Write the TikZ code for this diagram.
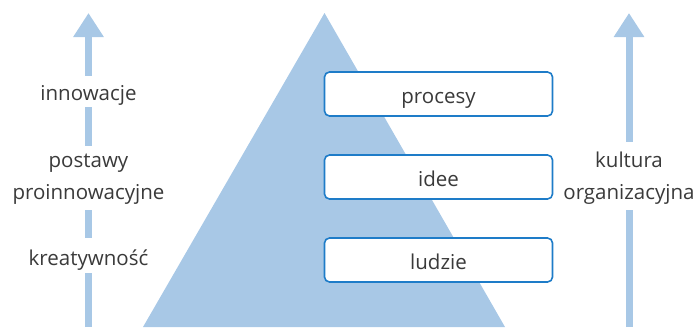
\documentclass[tikz,border=0pt]{standalone}
\usepackage{fontspec}
\setmainfont{Open Sans}
\usetikzlibrary{arrows.meta}

\definecolor{paleblue}{HTML}{A8C8E6}
\definecolor{frameblue}{HTML}{1E7CC8}
\definecolor{inkgray}{HTML}{3A3A3A}

\tikzset{
  shaft/.style={paleblue, line width=7pt},
  tipped/.style={shaft, -{Triangle[width=29pt,length=24pt]}},
  label/.style={text=inkgray, font=\fontsize{20.5}{32}\selectfont, align=center,
    inner xsep=4pt, inner ysep=0pt},
  level/.style={draw=frameblue, line width=1.6pt, fill=white, rounded corners=5pt,
    minimum width=228pt, minimum height=44pt, inner ysep=0pt,
    text height=20pt, text depth=2pt, text=inkgray, font=\fontsize{20.5}{24}\selectfont}
}

\begin{document}
\begin{tikzpicture}[x=1pt, y=-1pt]
  \useasboundingbox (0,0) rectangle (698,327);

  % the pyramid
  \fill[paleblue] (324.5,13) -- (505,327) -- (143,327) -- cycle;

  % the three levels on its right flank
  \node[level] (procesy) at (438.5,94) {procesy};
  \node[level] (idee) at (438.5,177) {idee};
  \node[level] (ludzie) at (438.5,260) {ludzie};

  % left scale
  \coordinate (lbase) at (88.5,327);
  \coordinate (ltip) at (88.5,13);
  \node[label, text height=27pt, text depth=8pt] (kreat) at (88.5,255.5) {kreatywność};
  \node[label, text height=53pt, text depth=11pt] (postawy) at (88.5,178) {postawy\\proinnowacyjne};
  \node[label, text height=24pt, text depth=7pt] (innow) at (88.5,91.5) {innowacje};
  \draw[shaft] (lbase) -- (kreat);
  \draw[shaft] (kreat) -- (postawy);
  \draw[shaft] (postawy) -- (innow);
  \draw[tipped] (innow) -- (ltip);

  % right scale
  \coordinate (rbase) at (629,327);
  \coordinate (rtip) at (629,13);
  \node[label, text height=57pt, text depth=11pt] (kultura) at (629,176) {kultura\\organizacyjna};
  \draw[shaft] (rbase) -- (kultura);
  \draw[tipped] (kultura) -- (rtip);
\end{tikzpicture}
\end{document}
